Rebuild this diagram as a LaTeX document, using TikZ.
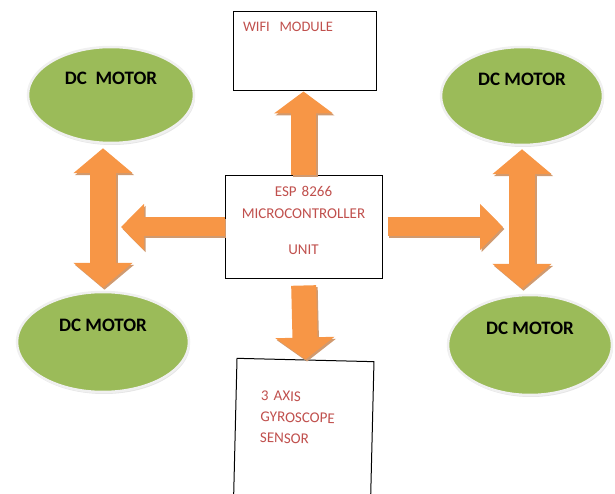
\documentclass[tikz,border=0pt]{standalone}
\usepackage{fontspec}
\setmainfont{Carlito}
\usetikzlibrary{arrows.meta,shapes.geometric,shadows}
\definecolor{arroworange}{HTML}{F79646}
\definecolor{arrowedge}{HTML}{D09A70}
\definecolor{motorgreen}{HTML}{9BBB59}
\definecolor{labelred}{HTML}{C0504D}
\begin{document}
\begin{tikzpicture}[x=1pt,y=-1pt,
  motor/.style={ellipse,fill=motorgreen,draw=gray!12,line width=2.5pt,drop shadow={shadow xshift=1pt,shadow yshift=-2pt,fill=gray!40},font=\bfseries\fontsize{19}{22}\selectfont,text depth=33pt},
  unit/.style={draw,line width=1pt,text=labelred,font=\fontsize{15}{21}\selectfont},
  bus/.style={line width=25pt,-{Triangle[length=22pt,width=58pt]}},
  busboth/.style={line width=26pt,{Triangle[length=25pt,width=58pt]}-{Triangle[length=25pt,width=58pt]}},
  link/.style={line width=19pt,-{Triangle[length=23pt,width=45pt]}},
  fat/.style={preaction={draw=arrowedge,#1,transform canvas={shift={(1.5pt,-2pt)}}},draw=arroworange,#1}]
\useasboundingbox (0,0) rectangle (615,494);
% motors
\node[motor,minimum width=166pt,minimum height=96pt] (m1) at (111,95) {DC\ \ MOTOR};
\node[motor,minimum width=172pt,minimum height=100pt] (m2) at (103,342) {DC MOTOR};
\node[motor,minimum width=162pt,minimum height=98pt] (m3) at (522,96) {DC MOTOR};
\node[motor,minimum width=164pt,minimum height=100pt] (m4) at (530,345) {DC MOTOR};
% boxes
\node[unit,minimum width=143pt,minimum height=79pt,text width=123pt,inner xsep=10pt,align=left,font=\fontsize{14.5}{18}\selectfont,text depth=49pt] (wifi) at (304.5,51.5) {WIFI\ \ MODULE};
\node[unit,minimum width=157pt,minimum height=102pt,text width=141pt,inner xsep=8pt,align=center,font=\fontsize{15}{22}\selectfont,text depth=71.7pt] (esp) at (303.5,227) {ESP 8266\\MICROCONTROLLER\\[14pt]UNIT};
\node[unit,anchor=north,rotate=-1.4,minimum width=137pt,minimum height=140pt,text width=87pt,inner xsep=25pt,align=left,text depth=66.7pt] (gyro) at (305.5,359.5) {3 AXIS\\GYROSCOPE\\SENSOR};
% arrows
\draw[fat=bus] (esp.north) -- (esp.north |- wifi.south);
\draw[fat=bus,shorten <=7pt] (esp.south) -- (gyro.north);
\draw[fat=busboth,shorten <=4pt,shorten >=3pt] (m1.south -| m2.north) -- (m2.north);
\draw[fat=busboth,shorten <=3pt,shorten >=5pt] (m3.south) -- (m3.south |- m4.north);
\draw[fat=link,shorten >=18pt] (esp.west) -- (esp.west -| m2.north);
\draw[fat=link,shorten <=5pt,shorten >=19pt] (esp.east) -- (esp.east -| m3.south);
\end{tikzpicture}
\end{document}
